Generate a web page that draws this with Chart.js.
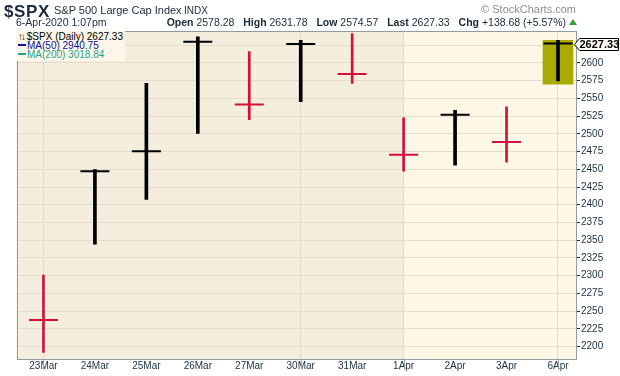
<!DOCTYPE html>
<html>
<head>
<meta charset="utf-8">
<script src="https://cdn.jsdelivr.net/npm/chart.js@4/dist/chart.umd.min.js"></script>
<style>
  body { margin: 0; background: #fff; font-family: "Liberation Sans", Arial, sans-serif; color: #1a2a3a; }
  #wrap { position: relative; width: 620px; height: 376px; overflow: hidden; }
  #c { position: absolute; left: 0; top: 0; }
  .abs { position: absolute; white-space: nowrap; line-height: 1; }
  #sym { left: 4px; top: 3px; font-size: 17px; font-weight: bold; letter-spacing: 0.6px; }
  #name { left: 54px; top: 5px; font-size: 11px; }
  #exch { left: 184px; top: 6px; font-size: 10px; }
  #date { left: 16px; top: 17px; font-size: 10.5px; }
  #quote { right: 43px; top: 17px; font-size: 10.5px; }
  #quote b { margin-left: 6px; }
  #quote b:first-child { margin-left: 0; }
  #tri { display: inline-block; width: 0; height: 0; border-left: 4px solid transparent; border-right: 4px solid transparent;
         border-bottom: 6px solid #3d9a3d; margin-left: 3px; vertical-align: 1px; }
  #copy { right: 44px; top: 4px; font-size: 11px; color: #8a8f8f; }
  #legend { left: 17px; top: 31px; font-size: 10px; line-height: 9px; background: #fcf7e8; padding: 1px 2px 2px 1px; }
  #legend .dash { display: inline-block; width: 8px; height: 2px; vertical-align: 3px; margin-right: 1px; }
</style>
</head>
<body>
<div id="wrap">
  <canvas id="c" width="620" height="376"></canvas>
  <div class="abs" id="sym">$SPX</div>
  <div class="abs" id="name">S&amp;P 500 Large Cap Index</div>
  <div class="abs" id="exch">INDX</div>
  <div class="abs" id="date">6-Apr-2020 1:07pm</div>
  <div class="abs" id="quote"><b>Open</b> 2578.28 <b>High</b> 2631.78 <b>Low</b> 2574.57 <b>Last</b> 2627.33 <b>Chg</b> +138.68 (+5.57%)<span id="tri"></span></div>
  <div class="abs" id="copy">© StockCharts.com</div>
  <div class="abs" id="legend">
    <div style="color:#000"><span style="font-size:10px;letter-spacing:-2px">↑↓</span> $SPX (Daily) 2627.33</div>
    <div style="color:#1010a0"><span class="dash" style="background:#1010a0"></span>MA(50) 2940.75</div>
    <div style="color:#27a08f"><span class="dash" style="background:#27a08f"></span>MA(200) 3018.84</div>
  </div>
</div>
<script>
(function () {
  'use strict';

  // daily bars
  const labels = ['23Mar', '24Mar', '25Mar', '26Mar', '27Mar', '30Mar', '31Mar', '1Apr', '2Apr', '3Apr', '6Apr'];
  const highs  = [2300.73, 2449.71, 2571.42, 2637.01, 2615.91, 2631.80, 2641.39, 2522.75, 2533.22, 2538.18, 2631.78];
  const lows   = [2191.86, 2344.44, 2407.53, 2500.72, 2520.02, 2545.28, 2571.15, 2447.49, 2455.79, 2459.96, 2574.57];
  const closes = [2237.40, 2447.33, 2475.56, 2630.07, 2541.47, 2626.65, 2584.59, 2470.50, 2526.90, 2488.65, 2627.33];
  const prevClose = 2304.92;                 // close before the first bar
  const todayBox = [2570, 2632];             // olive range box on the last bar
  const yTicks = [2200, 2225, 2250, 2275, 2300, 2325, 2350, 2375, 2400, 2425, 2450, 2475,
                  2500, 2525, 2550, 2575, 2600, 2625];
  const weekLines = [0, 5, 7, 10];           // vertical grid lines (Mondays + month start)
  const monthStart = 7;                      // 1Apr: background changes here
  const lastPrice = 2627.33;

  const RED = '#d4103a', BLACK = '#000';
  const up = closes.map((c, i) => c >= (i ? closes[i - 1] : prevClose));

  const upBars = [], downBars = [];
  labels.forEach((_, i) => (up[i] ? upBars : downBars).push({ x: i, y: [lows[i], highs[i]] }));

  const bgPlugin = {
    id: 'bg',
    beforeDraw(chart) {
      const { ctx, chartArea: a, scales: { x } } = chart;
      const split = Math.round(x.getPixelForValue(monthStart));
      ctx.save();
      ctx.fillStyle = '#f4eede';
      ctx.fillRect(a.left, a.top, split - a.left, a.bottom - a.top);
      ctx.fillStyle = '#fdf7e6';
      ctx.fillRect(split, a.top, a.right - split, a.bottom - a.top);
      ctx.restore();
    },
    afterDatasetsDraw(chart) {
      const { ctx, chartArea: a, scales: { x } } = chart;
      ctx.save();
      // week lines run down through the date labels
      ctx.strokeStyle = '#9aa3a3';
      ctx.lineWidth = 1;
      weekLines.forEach(i => {
        const px = Math.round(x.getPixelForValue(i)) + 0.5;
        ctx.beginPath();
        ctx.moveTo(px, a.bottom);
        ctx.lineTo(px, a.bottom + 10);
        ctx.stroke();
      });
      ctx.strokeStyle = '#909d9d';
      ctx.strokeRect(Math.round(a.left) + 0.5, Math.round(a.top) + 0.5,
        Math.round(a.right - a.left) - 1, Math.round(a.bottom - a.top) - 1);
      ctx.restore();
    },
    afterDraw(chart) {
      const { ctx, chartArea: a, scales: { y } } = chart;
      const py = Math.round(y.getPixelForValue(lastPrice)) + 0.5;
      const x0 = Math.round(a.right) - 1.5;
      ctx.save();
      ctx.beginPath();
      ctx.moveTo(x0, py);
      ctx.lineTo(x0 + 5, py - 6);
      ctx.lineTo(618.5, py - 6);
      ctx.lineTo(618.5, py + 6);
      ctx.lineTo(x0 + 5, py + 6);
      ctx.closePath();
      ctx.fillStyle = '#fffdf3';
      ctx.fill();
      ctx.strokeStyle = '#000';
      ctx.lineWidth = 1;
      ctx.stroke();
      ctx.fillStyle = '#000';
      ctx.font = 'bold 11px "Liberation Sans", Arial, sans-serif';
      ctx.textBaseline = 'middle';
      ctx.fillText(lastPrice.toFixed(2), x0 + 5, py + 0.5);
      ctx.restore();
    }
  };

  new Chart(document.getElementById('c'), {
    type: 'bar',
    data: {
      datasets: [
        { data: [{ x: labels.length - 1, y: todayBox }], backgroundColor: '#aaaa00', barThickness: 30, grouped: false, order: 3 },
        { data: upBars, backgroundColor: BLACK, barThickness: 3, grouped: false, order: 2 },
        { data: downBars, backgroundColor: RED, barThickness: 2, grouped: false, order: 2 },
        {
          type: 'scatter', order: 1,
          data: closes.map((c, i) => ({ x: i, y: c })),
          pointStyle: 'line', pointRadius: 14.5, pointHoverRadius: 14.5, pointBorderWidth: 2,
          pointBorderColor: up.map(u => (u ? BLACK : RED)), pointBackgroundColor: 'transparent'
        }
      ]
    },
    options: {
      responsive: false, animation: false, devicePixelRatio: 1,
      layout: { padding: { left: 16, top: 31, right: 0, bottom: 0 } },
      plugins: { legend: { display: false }, tooltip: { enabled: false } },
      scales: {
        x: {
          type: 'linear', min: -0.524, max: 10.35, offset: false,
          afterBuildTicks: s => { s.ticks = labels.map((_, i) => ({ value: i })); },
          afterFit: s => { s.height = 16; },
          border: { display: false },
          grid: { offset: false, drawTicks: false, color: c => (weekLines.includes(c.tick && c.tick.value) ? '#e3ddcd' : 'transparent') },
          ticks: { autoSkip: false, maxRotation: 0, padding: 1, color: '#1a3040',
                   font: { family: '"Liberation Sans", Arial, sans-serif', size: 10 },
                   callback: v => labels[v] }
        },
        y: {
          position: 'right', min: 2181.7, max: 2645.1,
          afterBuildTicks: s => { s.ticks = yTicks.map(v => ({ value: v })); },
          afterFit: s => { s.width = 44; },
          border: { display: false },
          grid: { color: '#e3ddcd', tickColor: '#1a3040', tickLength: 4 },
          ticks: { padding: 1, color: '#1a3040',
                   font: { family: '"Liberation Sans", Arial, sans-serif', size: 10 },
                   callback: v => (v > 2600 ? '' : v) }
        }
      }
    },
    plugins: [bgPlugin]
  });
})();
</script>
</body>
</html>
